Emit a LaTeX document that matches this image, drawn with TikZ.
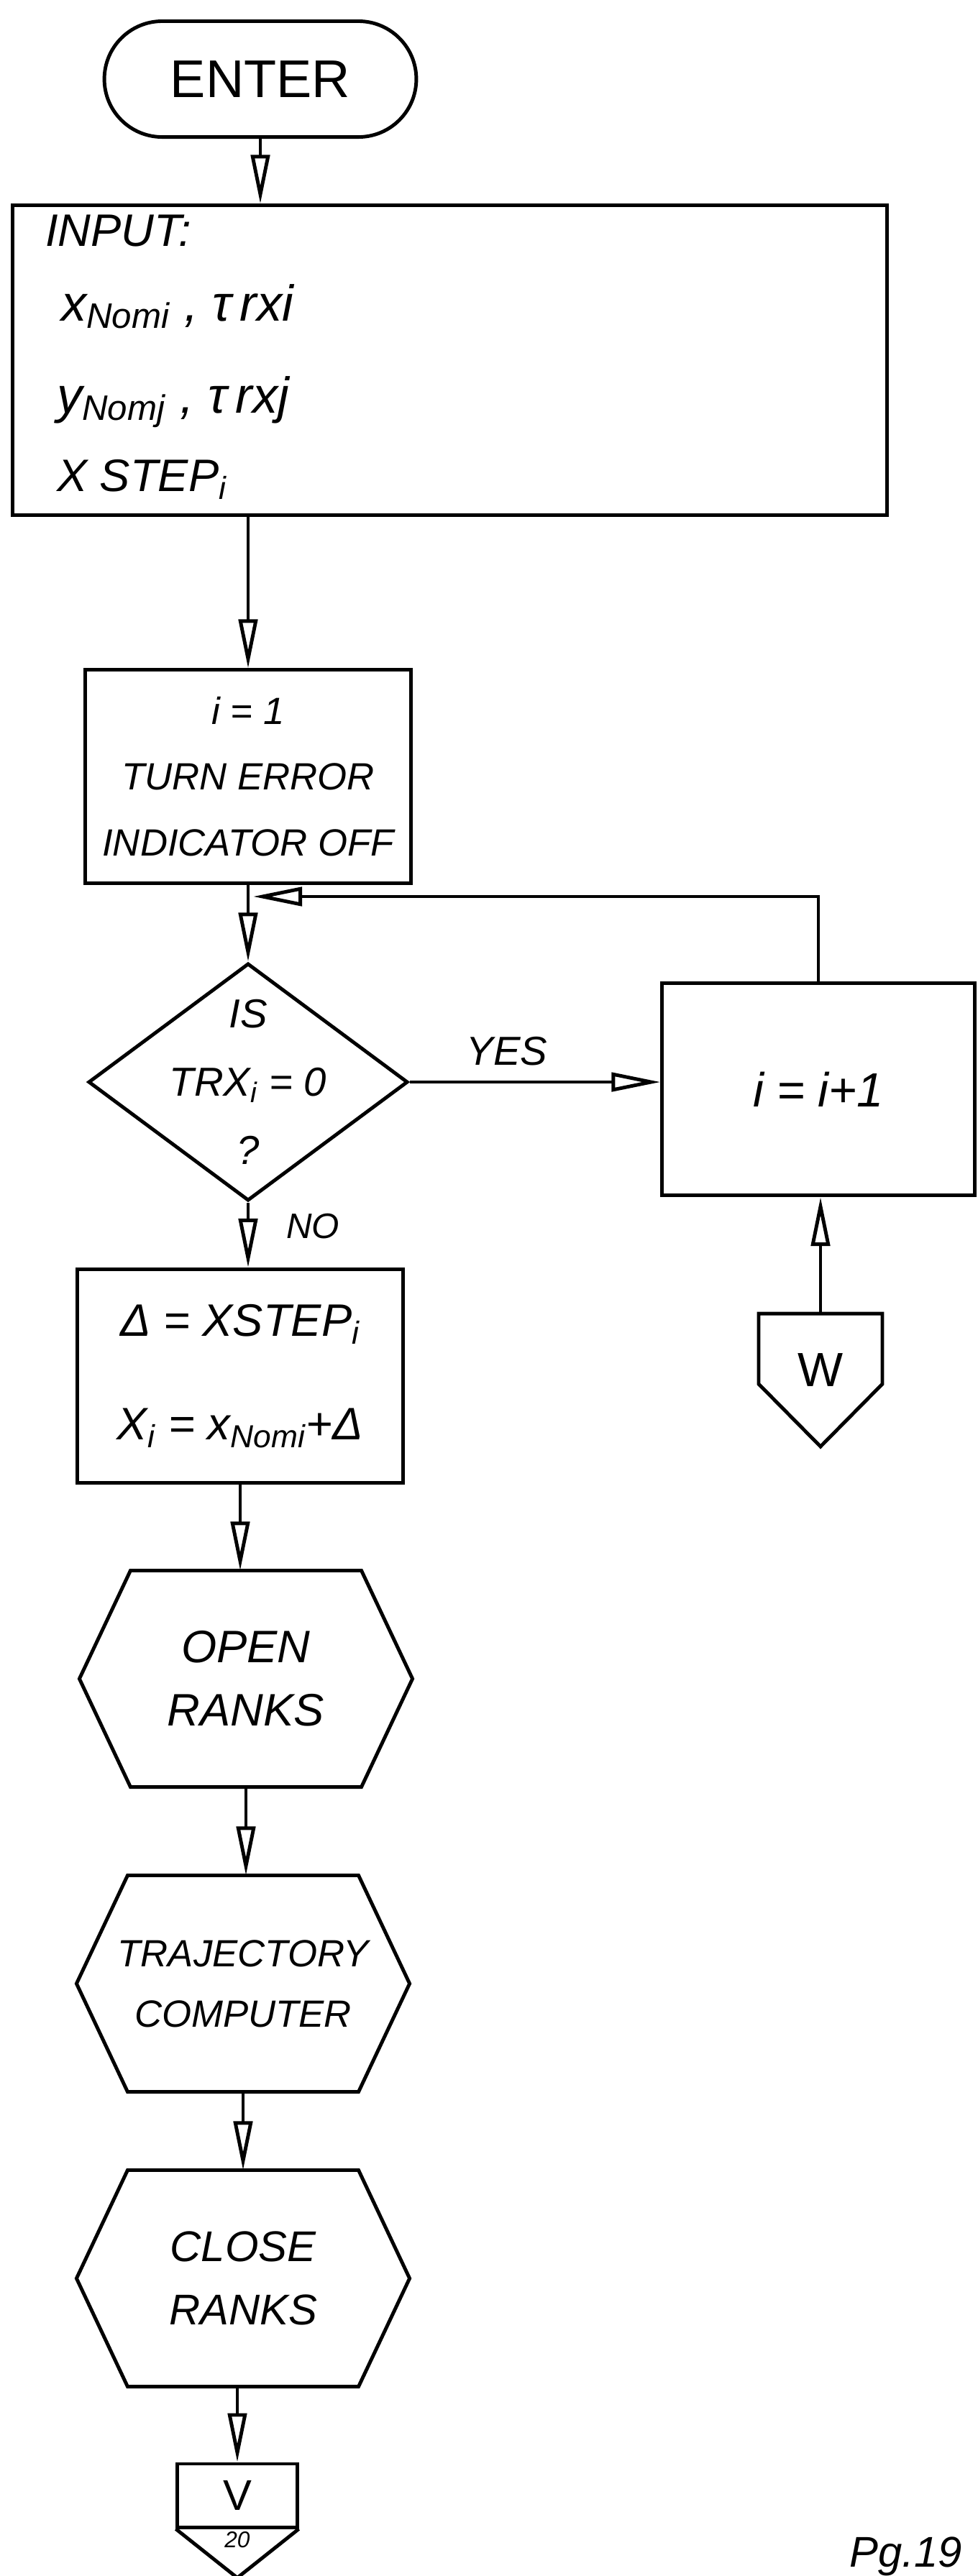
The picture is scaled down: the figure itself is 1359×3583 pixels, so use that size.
\documentclass[tikz,border=0pt]{standalone}
\usepackage{fontspec}
\setmainfont{Liberation Sans}
\usetikzlibrary{arrows.meta,shapes.geometric,shapes.misc,calc}

\newcommand{\low}[1]{\textsubscript{#1}}

\begin{document}
\begin{tikzpicture}[x=0.01cm, y=-0.01cm, line width=1.4pt,
    box/.style={draw, rectangle, inner sep=0pt, align=center},
    hexnode/.style={inner sep=0pt, align=center, minimum width=4.58cm, minimum height=2.96cm},
    flow/.style={-{Triangle[open, length=0.68cm, width=0.26cm]}},
    hand/.style 2 args={font=\itshape\fontsize{#1}{#2}\selectfont}]
  \useasboundingbox (0,0) rectangle (1359,3583);

  % start and input block
  \node[draw, rounded rectangle, minimum width=4.57cm, minimum height=1.61cm,
        font=\fontsize{21}{24}\selectfont] (enter) at (362,110) {ENTER};
  \node[box, minimum width=12.15cm, minimum height=4.30cm] (input) at (625.5,501) {};
  \node[hand={18}{21}, anchor=base west] (inhead) at (49,342) {INPUT:};
  \node[hand={20}{24}, anchor=base west] (inx) at (71,446) {x\low{Nomi} , τ\,rxi};
  \node[hand={20}{24}, anchor=base west] (iny) at (65,574) {y\low{Nomj} , τ\,rxj};
  \node[hand={18}{21}, anchor=base west] (instep) at (65,683) {X STEP\low{i}};

  % loop over i
  \node[box, hand={15}{26}, minimum width=4.53cm, minimum height=2.96cm] (init) at (345,1080)
    {i = 1\\TURN ERROR\\INDICATOR OFF};
  \node[draw, diamond, inner sep=0pt, minimum width=4.44cm, minimum height=3.30cm] (test) at (345,1505) {};
  \node[hand={16}{27}, align=center] (testtxt) at (test) {IS\\TRX\low{i} = 0\\?};
  \node[box, hand={19}{22}, minimum width=4.34cm, minimum height=2.95cm] (incr) at (1138,1515) {i = i+1};
  \node[hand={16}{19}] (yes) at (705,1462) {YES};
  \node[hand={14}{17}] (no) at (435,1706) {NO};

  % entry point W
  \node[inner sep=0pt, minimum width=1.67cm, minimum height=0.93cm] (wcon) at (1141,1876) {};
  \draw (wcon.south west) -- (wcon.north west) -- (wcon.north east) -- (wcon.south east)
    -- ($(wcon.south)+(0,87)$) -- cycle;
  \node[font=\fontsize{19}{22}\selectfont] (wlbl) at (1141,1905) {W};

  \node[box, hand={18}{41}, minimum width=4.53cm, minimum height=2.97cm] (delta) at (334,1914)
    {Δ = XSTEP\low{i}\\X\low{i} = x\low{Nomi}+Δ};

  % subroutine calls
  \node[hexnode, hand={18}{25}] (openrk) at (342,2335) {OPEN\\RANKS};
  \node[hexnode, hand={15}{24}] (trajcomp) at (338,2759) {TRAJECTORY\\COMPUTER};
  \node[hexnode, hand={17}{25}] (closerk) at (338,3169) {CLOSE\\RANKS};
  \foreach \h in {openrk,trajcomp,closerk}
    \draw (\h.west) -- ([xshift=0.71cm]\h.north west) -- ([xshift=-0.71cm]\h.north east)
      -- (\h.east) -- ([xshift=-0.71cm]\h.south east) -- ([xshift=0.71cm]\h.south west) -- cycle;

  % exit to V
  \node[box, minimum width=1.66cm, minimum height=0.88cm, font=\fontsize{17}{20}\selectfont] (vcon) at (330,3471) {V};
  \draw (vcon.south west) -- ($(vcon.south)+(0,68)$) -- (vcon.south east);
  \node[hand={9}{10}] (vpage) at (330,3533) {20};

  \node[hand={17}{20}, anchor=base east] (pgno) at (1352,3570) {Pg.19};

  % connectors
  \draw[flow] (enter.south) -- (enter.south |- input.north);
  \draw[flow] (init.north |- input.south) -- (init.north);
  \foreach \a/\b in {init/test, test/delta, delta/openrk, openrk/trajcomp, trajcomp/closerk}
    \draw[flow] (\a.south) -- (\a.south |- \b.north);
  \draw[flow] (closerk.south -| vcon.north) -- (vcon.north);
  \draw[flow] (test.east) -- (test.east -| incr.west);
  \draw[flow] (wcon.north) -- (wcon.north |- incr.south);
  \coordinate (merge) at (352,1247);
  \draw[flow] (incr.north) |- (merge);
\end{tikzpicture}
\end{document}
